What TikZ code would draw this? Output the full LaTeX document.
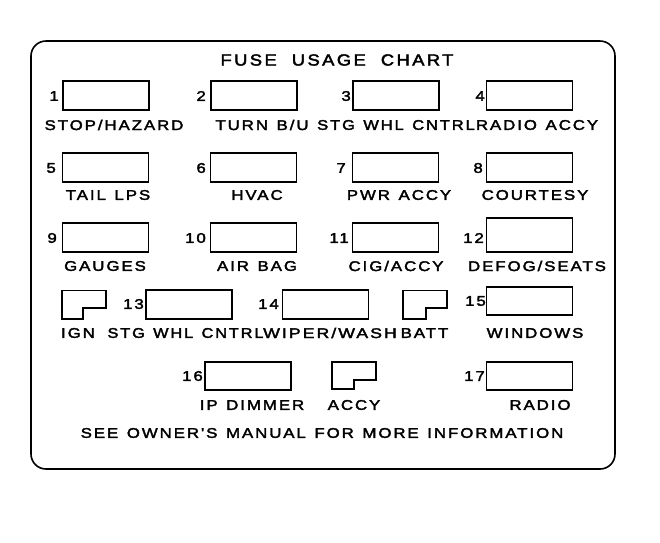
\documentclass[tikz,border=0pt]{standalone}
\usepackage{fontspec}
\usepackage{graphicx}
\setmainfont{Liberation Sans}
\newfontfamily\lblfont[LetterSpace=14,FakeStretch=1.2,FakeBold=2.5,WordSpace=1.3]{Liberation Sans}
\newfontfamily\ttlfont[LetterSpace=15,FakeStretch=1.15,FakeBold=2.5,WordSpace=2]{Liberation Sans}
\tikzset{
  lbl/.style={font=\lblfont\fontsize{14}{15}\selectfont, inner sep=0, anchor=center},
  num/.style={font=\lblfont\fontsize{14}{15}\selectfont, inner sep=0, anchor=east},
  ttl/.style={font=\ttlfont\fontsize{16}{18}\selectfont, inner sep=0, anchor=center},
  fusebox/.style={draw, line width=1.4pt, inner sep=0, minimum width=86pt, minimum height=29pt},
  notched/.style={draw, line width=1.4pt, line join=miter},
  frame/.style={draw, line width=1.6pt, rounded corners=15pt}
}
\begin{document}
\begin{tikzpicture}[x=1pt,y=-1pt]
\useasboundingbox (0,0) rectangle (660,542);
\draw[frame] (31,41) rectangle (615,469);
\node[ttl] (title) at (337,60) {FUSE USAGE CHART};
% row 1
\node[fusebox] (f1) at (106,95.5) {};
\node[fusebox] (f2) at (254,95.5) {};
\node[fusebox] (f3) at (396,95.5) {};
\node[fusebox] (f4) at (529.5,95.5) {};
\node[num] (n1) at (59,96) {1};
\node[num] (n2) at (206,96) {2};
\node[num] (n3) at (351,96) {3};
\node[num] (n4) at (485,96) {4};
\node[lbl] (l1) at (114,125) {STOP/HAZARD};
\node[lbl] (l2) at (262,125) {TURN B/U};
\node[lbl] (l3) at (396,125) {\scalebox{0.98}[1]{STG WHL CNTRL}};
\node[lbl] (l4) at (537,125) {RADIO ACCY};
% row 2
\node[fusebox] (f5) at (105.5,167.5) {};
\node[fusebox] (f6) at (253.5,167.5) {};
\node[fusebox] (f7) at (395.5,167.5) {};
\node[fusebox] (f8) at (529.5,167.5) {};
\node[num] (n5) at (56,168) {5};
\node[num] (n6) at (206,168) {6};
\node[num] (n7) at (346,168) {7};
\node[num] (n8) at (483,168) {8};
\node[lbl] (l5) at (108,195) {TAIL LPS};
\node[lbl] (l6) at (257,195) {HVAC};
\node[lbl] (l7) at (399,195) {PWR ACCY};
\node[lbl] (l8) at (535,195) {COURTESY};
% row 3
\node[fusebox] (f9) at (105.5,237.5) {};
\node[fusebox] (f10) at (253.5,237.5) {};
\node[fusebox] (f11) at (395.5,237.5) {};
\node[fusebox, minimum height=34pt] (f12) at (529.5,235) {};
\node[num] (n9) at (57,238) {9};
\node[num] (n10) at (206,238) {10};
\node[num] (n11) at (349,238) {11};
\node[num] (n12) at (484,238) {12};
\node[lbl] (l9) at (105,266) {GAUGES};
\node[lbl] (l10) at (257,266) {AIR BAG};
\node[lbl] (l11) at (396,266) {CIG/ACCY};
\node[lbl] (l12) at (537,266) {DEFOG/SEATS};
% row 4
\draw[notched] (62,290.5) -- (106,290.5) -- (106,308) -- (83,308) -- (83,319) -- (62,319) -- cycle;
\node[fusebox] (f13) at (189,304.5) {};
\node[fusebox] (f14) at (325.5,304.5) {};
\draw[notched] (403,290.5) -- (447,290.5) -- (447,308) -- (426,308) -- (426,319) -- (403,319) -- cycle;
\node[fusebox, minimum height=28pt] (f15) at (529.5,301) {};
\node[num] (n13) at (144,304) {13};
\node[num] (n14) at (279,304) {14};
\node[num] (n15) at (486,301) {15};
\node[lbl] (l13a) at (78,333) {IGN};
\node[lbl] (l13) at (185.5,333) {\scalebox{0.97}[1]{STG WHL CNTRL}};
\node[lbl] (l14) at (330,333) {\scalebox{1.05}[1]{WIPER/WASH}};
\node[lbl] (l14a) at (424.5,333) {BATT};
\node[lbl] (l15) at (535,333) {WINDOWS};
% row 5
\node[fusebox, minimum height=28pt] (f16) at (248,376) {};
\draw[notched] (332,362) -- (376,362) -- (376,380) -- (354,380) -- (354,389) -- (332,389) -- cycle;
\node[fusebox, minimum height=28pt] (f17) at (529.5,376) {};
\node[num] (n16) at (203,376) {16};
\node[num] (n17) at (485,376) {17};
\node[lbl] (l16) at (252,405) {IP DIMMER};
\node[lbl] (l16a) at (354,405) {ACCY};
\node[lbl] (l17) at (540,405) {RADIO};
% footer
\node[lbl] (foot) at (322,433) {SEE OWNER'S MANUAL FOR MORE INFORMATION};
\end{tikzpicture}
\end{document}
